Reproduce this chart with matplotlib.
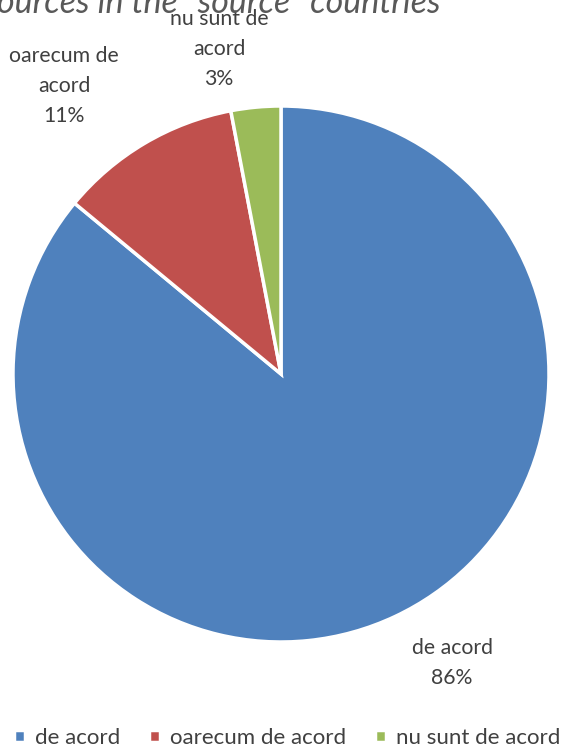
import matplotlib.pyplot as plt

# data
categories = ["de acord", "oarecum de acord", "nu sunt de acord"]
shares = [86, 11, 3]
slice_labels = ["de acord\n86%", "oarecum de\nacord\n11%", "nu sunt de\nacord\n3%"]
colors = ["#4F81BD", "#C0504D", "#9BBB59"]
title_text = 'ources in the "source" countries'

plt.rcParams['font.family'] = ['Lato', 'DejaVu Sans']

W, H = 561, 750
fig = plt.figure(figsize=(W/100, H/100), dpi=100)

# pie centre and radius in pixels
cx, cy, r = 281, 374, 268
ax = fig.add_axes([(cx-r)/W, (H-cy-r)/H, 2*r/W, 2*r/H])
wedges, _ = ax.pie(shares, colors=colors, startangle=90, counterclock=False,
                   radius=1, wedgeprops=dict(edgecolor="white", linewidth=2.5))
ax.set_xlim(-1, 1)
ax.set_ylim(-1, 1)
ax.set_aspect('equal')
ax.axis('off')

# label positions (pixels) like the excel layout
label_px = [(452, 663), (64, 86), (219, 49)]
for txt, (px, py) in zip(slice_labels, label_px):
    ax.text((px-cx)/r, (cy-py)/r, txt, ha="center", va="center", fontsize=15.3,
            color="#404040", linespacing=1.65, clip_on=False)

# clipped title at top
fig.text(-3/W, 1 - 13/H, title_text, ha="left", va="baseline", fontsize=24.5,
         style="italic", color="#595959")

leg = fig.legend(wedges, categories, loc="center", ncol=3, frameon=False,
                 bbox_to_anchor=(287/W, 1 - 738/H), fontsize=16, handlelength=0.5,
                 handleheight=0.5, handletextpad=0.45, columnspacing=1.3,
                 labelcolor="#404040", borderpad=0.2)

fig.savefig("out.png", dpi=100)
